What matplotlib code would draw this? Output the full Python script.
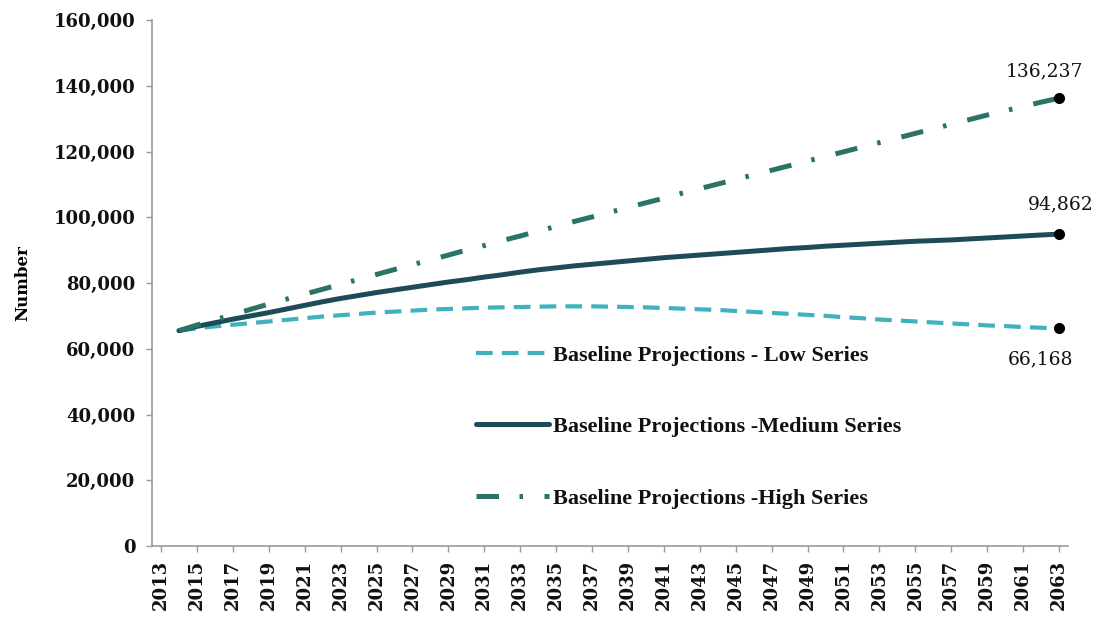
import matplotlib
matplotlib.use("Agg")
import matplotlib.pyplot as plt
from matplotlib.ticker import FuncFormatter

years_axis = list(range(2013, 2064))
years = list(range(2014, 2064))

low = [65.5, 66.2, 66.8, 67.3, 67.8, 68.3, 68.8, 69.3, 69.8, 70.2,
       70.6, 71.0, 71.3, 71.6, 71.9, 72.1, 72.3, 72.5, 72.6, 72.7,
       72.8, 72.9, 72.9, 72.9, 72.8, 72.7, 72.6, 72.4, 72.2, 72.0,
       71.8, 71.5, 71.2, 70.9, 70.6, 70.3, 70.0, 69.6, 69.3, 68.9,
       68.6, 68.3, 68.0, 67.7, 67.4, 67.1, 66.9, 66.6, 66.4, 66.168]
medium = [65.5, 66.8, 67.9, 69.0, 70.0, 71.0, 72.1, 73.2, 74.3, 75.3,
          76.2, 77.1, 77.9, 78.7, 79.5, 80.3, 81.0, 81.8, 82.5, 83.3,
          84.0, 84.6, 85.2, 85.7, 86.2, 86.7, 87.2, 87.7, 88.1, 88.5,
          88.9, 89.3, 89.7, 90.1, 90.5, 90.8, 91.2, 91.5, 91.8, 92.1,
          92.4, 92.7, 92.9, 93.1, 93.4, 93.7, 94.0, 94.3, 94.6, 94.862]
high = [65.5, 67.2, 68.8, 70.4, 72.0, 73.6, 75.1, 76.6, 78.1, 79.6,
        81.1, 82.6, 84.1, 85.6, 87.0, 88.5, 90.0, 91.4, 92.9, 94.3,
        95.8, 97.2, 98.7, 100.1, 101.5, 103.0, 104.4, 105.8, 107.3, 108.7,
        110.1, 111.5, 112.9, 114.3, 115.7, 117.1, 118.5, 119.9, 121.3, 122.7,
        124.1, 125.5, 126.9, 128.3, 129.7, 131.1, 132.4, 133.7, 135.0, 136.237]
low = [v * 1000 for v in low]
medium = [v * 1000 for v in medium]
high = [v * 1000 for v in high]

labels = ["Baseline Projections - Low Series",
          "Baseline Projections -Medium Series",
          "Baseline Projections -High Series"]
yticks = [0, 20000, 40000, 60000, 80000, 100000, 120000, 140000, 160000]

fig = plt.figure(figsize=(11.08, 6.19), dpi=100)
ax = fig.add_axes([152/1108, 73/619, (1068-152)/1108, (546-20)/619])

c_low = "#3fb1bf"
c_med = "#1d4c58"
c_high = "#2b7367"

l1, = ax.plot(years, low, color=c_low, lw=3.0, dashes=(4.0, 2.2), solid_capstyle="butt")
l2, = ax.plot(years, medium, color=c_med, lw=3.6, solid_capstyle="round")
l3, = ax.plot(years, high, color=c_high, lw=3.6, dashes=(4.5, 4.1, 0.7, 4.3))

for series in (low, medium, high):
    ax.plot([years[-1]], [series[-1]], "o", color="black", ms=7, zorder=5)

fmt = lambda v: f"{v:,.0f}"
ax.annotate(fmt(high[-1]), (years[-1], high[-1]), xytext=(-15, 27), textcoords="offset pixels",
            ha="center", va="center", fontsize=13.5, family="DejaVu Serif", color="#111111")
ax.annotate(fmt(medium[-1]), (years[-1], medium[-1]), xytext=(2, 30), textcoords="offset pixels",
            ha="center", va="center", fontsize=13.5, family="DejaVu Serif", color="#111111")
ax.annotate(fmt(low[-1]), (years[-1], low[-1]), xytext=(-19, -31), textcoords="offset pixels",
            ha="center", va="center", fontsize=13.5, family="DejaVu Serif", color="#111111")

ax.set_xlim(2012.5, 2063.5)
ax.set_ylim(0, 160000)
ax.set_yticks(yticks)
ax.yaxis.set_major_formatter(FuncFormatter(lambda v, p: f"{v:,.0f}"))
ax.set_xticks(years_axis[::2])
ax.set_xticklabels([str(y) for y in years_axis[::2]], rotation=90)
for lab in ax.get_xticklabels() + ax.get_yticklabels():
    lab.set_fontfamily("DejaVu Serif")
    lab.set_fontweight("bold")
    lab.set_fontsize(13)
    lab.set_color("#111111")
ax.tick_params(axis="both", colors="#999999", length=4, width=1, labelcolor="#111111")
ax.tick_params(axis="x", pad=6)
ax.tick_params(axis="y", pad=8)
for s in ("top", "right"):
    ax.spines[s].set_visible(False)
for s in ("left", "bottom"):
    ax.spines[s].set_color("#999999")
    ax.spines[s].set_linewidth(1.2)

ax.set_ylabel("Number", family="DejaVu Serif", fontweight="bold", fontsize=12, labelpad=16)

leg = fig.legend([l1, l2, l3], labels, loc="upper left", bbox_to_anchor=(476/1108, 1 - 345/619),
                 frameon=False, handlelength=3.3, handletextpad=0.15, labelspacing=2.3,
                 borderpad=0, borderaxespad=0,
                 prop={"family": "Liberation Serif", "weight": "bold", "size": 16})
for t in leg.get_texts():
    t.set_color("#111111")

fig.savefig("out.png", dpi=100)
